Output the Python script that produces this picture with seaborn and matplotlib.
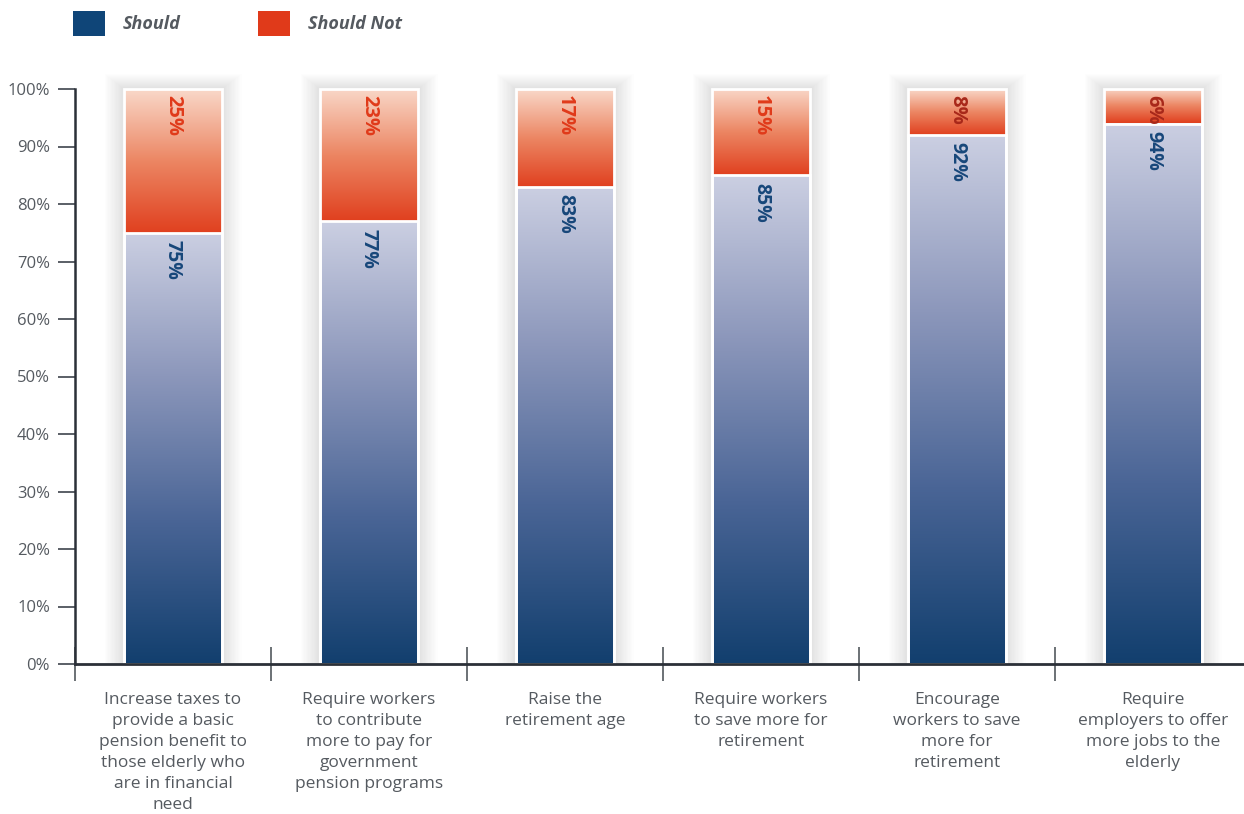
import numpy as np
import pandas as pd
import matplotlib
matplotlib.use("Agg")
import matplotlib.pyplot as plt
from matplotlib.colors import LinearSegmentedColormap
from matplotlib.patches import Patch, Rectangle
import seaborn as sns

# ---- data ----
categories = [
    "Increase taxes to\nprovide a basic\npension benefit to\nthose elderly who\nare in financial\nneed",
    "Require workers\nto contribute\nmore to pay for\ngovernment\npension programs",
    "Raise the\nretirement age",
    "Require workers\nto save more for\nretirement",
    "Encourage\nworkers to save\nmore for\nretirement",
    "Require\nemployers to offer\nmore jobs to the\nelderly",
]
should = [75, 77, 83, 85, 92, 94]
should_not = [25, 23, 17, 15, 8, 6]
series_names = ["Should", "Should Not"]
yticks = list(range(0, 101, 10))

# ---- style ----
sns.set_theme(style="white")
plt.rcParams["font.family"] = ["Open Sans", "DejaVu Sans"]

BLUE = "#0f4578"
RED = "#e03a1a"
TXT = "#555a60"
blue_cmap = LinearSegmentedColormap.from_list("b", ["#123f6e", "#4a6596", "#8c97bb", "#cbcfe2"])
red_cmap = LinearSegmentedColormap.from_list("r", ["#e0401f", "#ec8663", "#f9d8c9"])

W, H = 1244, 814
fig = plt.figure(figsize=(W / 100, H / 100), dpi=100)
ax = fig.add_axes([75 / W, (814 - 664) / H, 1176 / W, 575 / H])

df = pd.DataFrame({"cat": categories, "total": [a + b for a, b in zip(should, should_not)], "should": should})
sns.barplot(data=df, x="cat", y="total", color=RED, width=0.5, ax=ax, saturation=1)
n_red = len(ax.patches)
sns.barplot(data=df, x="cat", y="should", color=BLUE, width=0.5, ax=ax, saturation=1)
red_patches = ax.patches[:n_red]
blue_patches = ax.patches[n_red:]

px_x = 6 / 1176
px_y = 100 / 575

for i, (rp, bp) in enumerate(zip(red_patches, blue_patches)):
    x0 = bp.get_x()
    w = bp.get_width()
    top_b = bp.get_height()
    top_r = rp.get_height()
    # soft shadow
    for k in range(1, 16):
        ax.add_patch(Rectangle((x0 - k * 1.3 * px_x, 0), w + 2 * k * 1.3 * px_x,
                               top_r + k * 1.0 * px_y, facecolor="#000000",
                               alpha=0.006, lw=0, zorder=1, clip_on=False))
    grad = np.linspace(0, 1, 256).reshape(-1, 1)
    ax.imshow(grad, extent=(x0, x0 + w, 0, top_b), origin="lower", cmap=blue_cmap,
              aspect="auto", zorder=2, interpolation="bicubic")
    ax.imshow(grad, extent=(x0, x0 + w, top_b, top_r), origin="lower", cmap=red_cmap,
              aspect="auto", zorder=2, interpolation="bicubic")
    for p in (rp, bp):
        p.set_facecolor("none")
        p.set_edgecolor("white")
        p.set_linewidth(2)
        p.set_zorder(3)
        p.set_clip_on(False)
    cx = x0 + w / 2
    rc = RED if should_not[i] > 10 else "#a8281a"
    ax.text(cx, top_r - 1.0, f"{should_not[i]}%", rotation=-90, ha="center", va="top",
            color=rc, fontsize=14.5, fontweight="bold", zorder=5)
    ax.text(cx, top_b - 1.3, f"{should[i]}%", rotation=-90, ha="center", va="top",
            color="#17477a", fontsize=14, fontweight="bold", zorder=5)

ax.set_xlim(-0.5, 5.5)
ax.set_ylim(0, 100)
ax.set_xlabel("")
ax.set_ylabel("")
ax.set_yticks(yticks)
ax.set_yticklabels([f"{t}%" for t in yticks], fontsize=12, color=TXT)
ax.set_xticks(range(len(categories)))
ax.set_xticklabels(categories, fontsize=12.5, color=TXT, linespacing=1.42)
ax.set_xticks(np.arange(-0.5, 6.0, 1.0), minor=True)
ax.tick_params(axis="x", which="both", bottom=True)
ax.tick_params(axis="y", which="major", left=True)
ax.tick_params(axis="x", which="major", length=0, pad=20)
ax.tick_params(axis="x", which="minor", direction="inout", length=25, width=1.1, color="#444a50")
ax.tick_params(axis="y", which="major", direction="out", length=12, width=1.4, color="#5a5f66", pad=6)

for s in ("top", "right"):
    ax.spines[s].set_visible(False)
ax.spines["left"].set_color("#2b3038")
ax.spines["left"].set_linewidth(1.8)
ax.spines["bottom"].set_color("#2b3038")
ax.spines["bottom"].set_linewidth(2.0)
ax.spines["bottom"].set_zorder(4)

handles = [Patch(facecolor=BLUE, edgecolor="none"), Patch(facecolor=RED, edgecolor="none")]
fig.legend(handles, series_names, loc="upper left", bbox_to_anchor=(73 / W, 1 - 11 / H),
           ncol=2, frameon=False, borderpad=0, borderaxespad=0, handlelength=1.75,
           handleheight=1.75, handletextpad=1.0, columnspacing=4.3,
           prop={"size": 13, "style": "italic", "weight": "bold"}, labelcolor=TXT)

fig.savefig("out.png", dpi=100)
